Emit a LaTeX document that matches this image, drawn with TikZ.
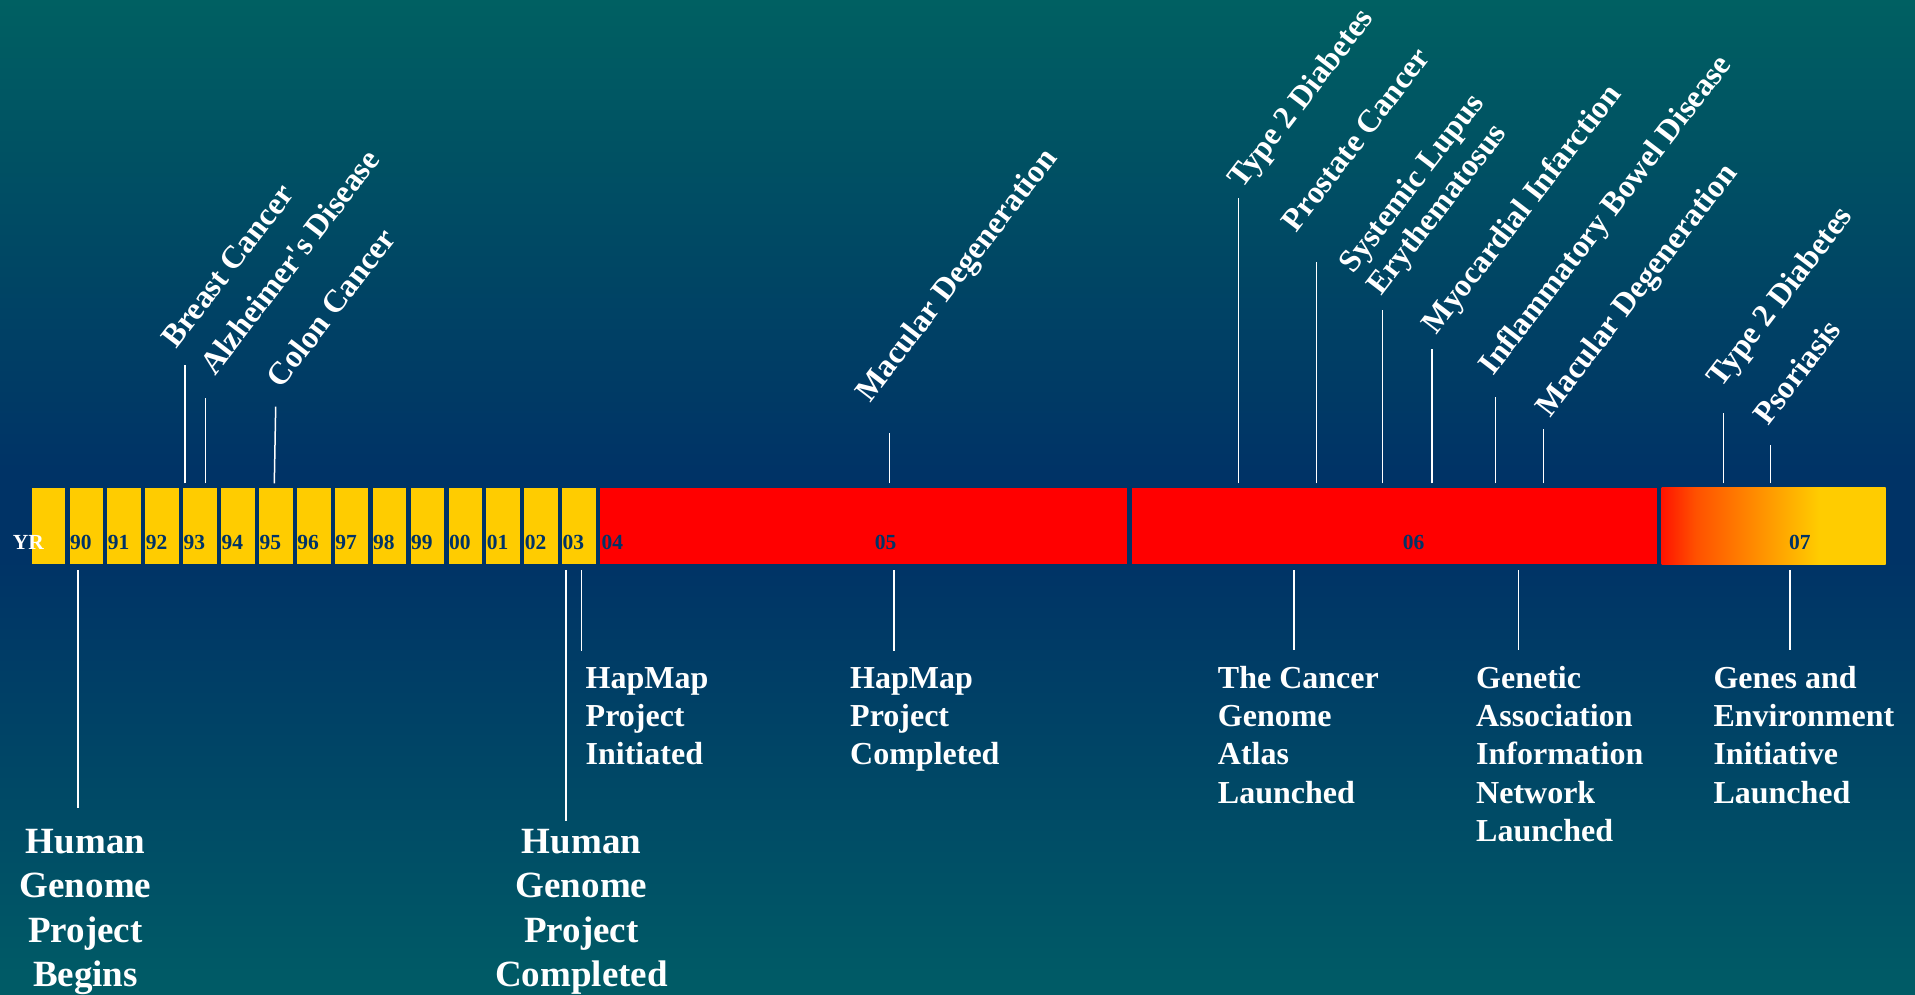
\documentclass[tikz,border=0pt]{standalone}
\usepackage{fontspec}
\setmainfont{Liberation Serif}
\definecolor{navy}{RGB}{0,51,102}
\definecolor{bgtop}{RGB}{0,96,98}
\definecolor{bgbot}{RGB}{0,92,102}
\definecolor{yel}{RGB}{255,204,0}
\definecolor{redb}{RGB}{255,0,0}
\definecolor{gA}{RGB}{255,20,0}
\definecolor{gB}{RGB}{255,80,0}
\pgfdeclareverticalshading{bgshade}{100bp}{color(0bp)=(bgbot); color(25bp)=(bgbot); color(46.9bp)=(navy); color(51.4bp)=(navy); color(75bp)=(bgtop); color(100bp)=(bgtop)}
\pgfdeclarehorizontalshading{gradbox}{100bp}{color(0bp)=(gA); color(25bp)=(gA); color(32.5bp)=(gB); color(60bp)=(yel); color(100bp)=(yel)}
\newcommand{\mylines}[1]{\begin{tabular}[t]{@{}l@{}}#1\end{tabular}}
\newcommand{\mycentre}[1]{\begin{tabular}[t]{@{}c@{}}#1\end{tabular}}
\begin{document}
\begin{tikzpicture}[x=1pt,y=-1pt,
  yearbox/.style={fill=yel, draw=none, inner sep=0pt, outer sep=0pt, minimum width=33.6pt, minimum height=76.5pt, anchor=north west},
  redbox/.style={fill=redb, draw=none, inner sep=0pt, outer sep=0pt, minimum height=76.5pt, anchor=north west},
  yeartext/.style={anchor=base west, inner sep=0pt, text=navy, font=\fontsize{21.5}{24}\selectfont\bfseries},
  tick/.style={draw=white, line width=1.5pt},
  rotlab/.style={anchor=base west, rotate=52.5, inner sep=0pt, text=white, font=\fontsize{32}{36}\selectfont\bfseries},
  botlab/.style={anchor=base west, inner sep=0pt, text=white, font=\fontsize{32}{38.3}\selectfont\bfseries},
  biglab/.style={anchor=base, inner sep=0pt, text=white, font=\fontsize{37}{44.5}\selectfont\bfseries}]
\useasboundingbox (0,0) rectangle (1915,995);
\shade[shading=bgshade] (0,0) rectangle (1915,995);

% year boxes
\node[yearbox] (byr) at (31.6,487.5) {};
\foreach \lab [count=\i] in {90,91,92,93,94,95,96,97,98,99,00,01,02,03} {
  \node[yearbox] (b\lab) at ({31.6+37.9*\i},487.5) {};
  \node[yeartext] (t\lab) at ({31.6+37.9*\i+0.3},549.3) {\lab};
}
\node[anchor=base west, inner sep=0pt, text=white, font=\fontsize{21.5}{24}\selectfont\bfseries] (tyr) at (12.7,549.3) {YR};

% long boxes
\node[redbox, minimum width=527pt] (b0405) at (600,487.5) {};
\node[redbox, minimum width=525.5pt] (b06) at (1131.5,487.5) {};
\node[shade, shading=gradbox, draw=none, inner sep=0pt, outer sep=0pt, minimum width=224pt, minimum height=76.5pt, anchor=north west] (b07) at (1661.7,487.5) {};
\node[yeartext] (t04) at (601.5,549.3) {04};
\node[yeartext] (t05) at (874.6,549.3) {05};
\node[yeartext] (t06) at (1402.7,549.3) {06};
\node[yeartext] (t07) at (1789,549.3) {07};

% upper tick lines
\foreach \n/\x/\y in {bc/185/365, az/205.7/398.3, mda/889.5/432.7, tda/1238.3/198, pc/1316.7/262, sle/1382.3/310, mi/1432/349.3, ibd/1495.7/397.3, mdb/1543.7/429.3, tdb/1723.7/413.3, ps/1770.7/445} {
  \coordinate (\n a) at (\x,483.3);
  \coordinate (\n b) at (\x,\y);
  \draw[tick] (\n a) -- (\n b);
}
\coordinate (cca) at (274.3,483.3);
\coordinate (ccb) at (275.7,406.7);
\draw[tick] (cca) -- (ccb);

% rotated disease labels
\node[rotlab] (lbc) at (176,350) {Breast Cancer};
\node[rotlab] (laz) at (215,376.7) {Alzheimer\textquotesingle s Disease};
\node[rotlab] (lcc) at (281.7,389.3) {Colon Cancer};
\node[rotlab] (lmda) at (870,403.3) {Macular Degeneration};
\node[rotlab] (ltda) at (1242.7,190) {Type 2 Diabetes};
\node[rotlab] (lpc) at (1296.7,233.3) {Prostate Cancer};
\node[rotlab] (lsle) at (1353.3,275) {\mylines{Systemic Lupus\\Erythematosus}};
\node[rotlab] (lmi) at (1436.7,336) {Myocardial Infarction};
\node[rotlab] (libd) at (1493.3,376.7) {Inflammatory Bowel Disease};
\node[rotlab] (lmdb) at (1550,418.3) {Macular Degeneration};
\node[rotlab] (ltdb) at (1721.7,388.3) {Type 2 Diabetes};
\node[rotlab] (lps) at (1768.3,426.7) {Psoriasis};

% lower tick lines
\foreach \n/\x/\y in {hgb/78.1/808.3, hgc/566/821, hmi/581.3/651, hmc/894/651, tcga/1294/650, gain/1518.3/650, gei/1790/650} {
  \coordinate (\n a) at (\x,570);
  \coordinate (\n b) at (\x,\y);
  \draw[tick] (\n a) -- (\n b);
}

% lower labels
\node[botlab] (lhmi) at (585.5,688.3) {\mylines{HapMap\\Project\\Initiated}};
\node[botlab] (lhmc) at (850,688.3) {\mylines{HapMap\\Project\\Completed}};
\node[botlab] (ltcga) at (1217.7,688.3) {\mylines{The Cancer\\Genome\\Atlas\\Launched}};
\node[botlab] (lgain) at (1476,688.3) {\mylines{Genetic\\Association\\Information\\Network\\Launched}};
\node[botlab] (lgei) at (1713.3,688.3) {\mylines{Genes and\\Environment\\Initiative\\Launched}};
\node[biglab] (lhgb) at (85.5,853) {\mycentre{Human\\Genome\\Project\\Begins}};
\node[biglab] (lhgc) at (581.5,853) {\mycentre{Human\\Genome\\Project\\Completed}};
\end{tikzpicture}
\end{document}
